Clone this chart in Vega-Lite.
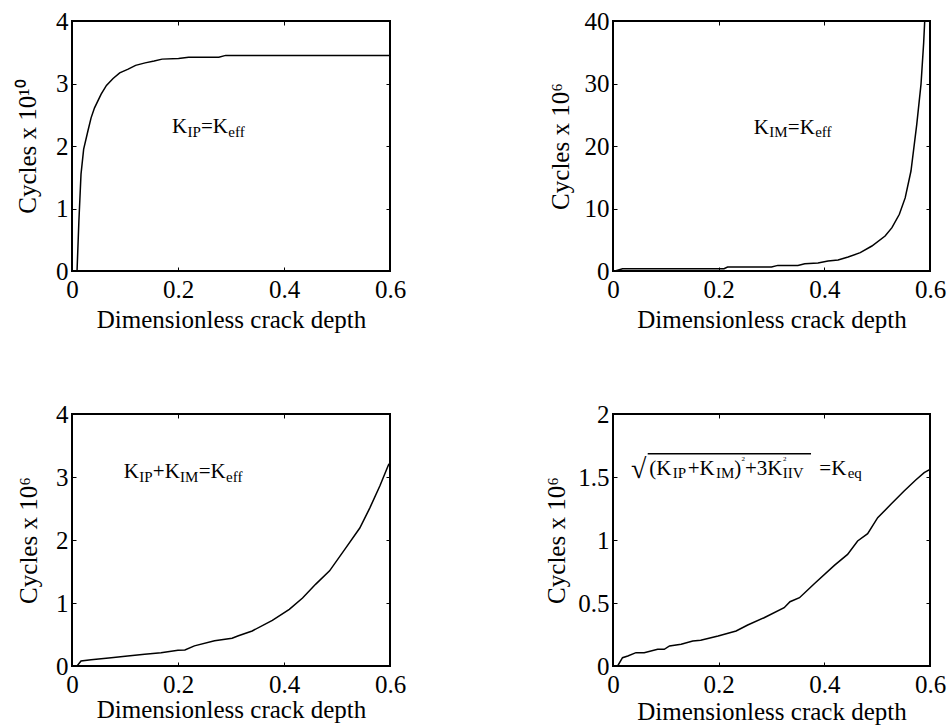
{
  "$schema": "https://vega.github.io/schema/vega-lite/v6.json",
  "padding": {"left": 14, "top": 8, "right": 5, "bottom": 5},
  "background": "white",
  "config": {
    "font": "Liberation Serif",
    "view": {"stroke": "black", "strokeWidth": 2},
    "axis": {"grid": false, "domain": false, "labelFont": "Liberation Serif", "titleFont": "Liberation Serif", "labelFontSize": 25, "titleFontSize": 25, "titleFontWeight": "normal", "labelColor": "black", "titleColor": "black", "tickColor": "black", "tickSize": -4, "tickWidth": 1, "labelFlush": false, "labelOverlap": false, "format": "~r"},
    "axisX": {"labelPadding": 10, "titlePadding": 5},
    "axisY": {"labelPadding": 8},
    "text": {"font": "Liberation Serif", "color": "black"}
  },
  "columns": 2,
  "spacing": {"row": 143, "column": 223},
  "bounds": "flush",
  "concat": [
    {
      "width": 318, "height": 250,
      "layer": [
        {
          "data": {"values": [{"x":0.0095,"y":0},{"x":0.013,"y":0.8},{"x":0.017,"y":1.55},{"x":0.022,"y":1.95},{"x":0.03,"y":2.24},{"x":0.036,"y":2.45},{"x":0.0425,"y":2.61},{"x":0.055,"y":2.83},{"x":0.065,"y":2.97},{"x":0.0775,"y":3.08},{"x":0.09,"y":3.17},{"x":0.106,"y":3.23},{"x":0.12,"y":3.29},{"x":0.138,"y":3.33},{"x":0.155,"y":3.36},{"x":0.17,"y":3.39},{"x":0.201,"y":3.4},{"x":0.22,"y":3.42},{"x":0.277,"y":3.42},{"x":0.29,"y":3.45},{"x":0.6,"y":3.45}]},
          "mark": {"type": "line", "color": "black", "strokeWidth": 1.5, "clip": true},
          "encoding": {
            "x": {"field": "x", "type": "quantitative", "scale": {"domain": [0, 0.6], "nice": false, "zero": false}, "axis": {"orient": "bottom", "values": [0, 0.2, 0.4, 0.6], "title": "Dimensionless crack depth"}},
            "y": {"field": "y", "type": "quantitative", "scale": {"domain": [0, 4], "nice": false}, "axis": {"orient": "left", "values": [0, 1, 2, 3, 4], "title": "Cycles x 10¹⁰", "titlePadding": 15}}
          }
        },
        {
          "data": {"values": [{"x":0.1887,"y":2.213,"t":"K"},{"x":0.2434,"y":2.213,"t":"=K"}]},
          "mark": {"type": "text", "align": "left", "baseline": "alphabetic", "fontSize": 21},
          "encoding": {
            "x": {"field": "x", "type": "quantitative", "scale": {"domain": [0, 0.6], "nice": false, "zero": false}, "axis": {"orient": "top", "labels": false, "title": null, "values": [0.2, 0.4]}},
            "y": {"field": "y", "type": "quantitative", "scale": {"domain": [0, 4], "nice": false}, "axis": {"orient": "right", "labels": false, "title": null, "values": [1, 2, 3]}},
            "text": {"field": "t"}
          }
        },
        {
          "data": {"values": [{"x":0.2179,"y":2.145,"t":"IP"},{"x":0.2949,"y":2.145,"t":"eff"}]},
          "mark": {"type": "text", "align": "left", "baseline": "alphabetic", "fontSize": 15},
          "encoding": {
            "x": {"field": "x", "type": "quantitative", "scale": {"domain": [0, 0.6], "nice": false, "zero": false}, "axis": null},
            "y": {"field": "y", "type": "quantitative", "scale": {"domain": [0, 4], "nice": false}, "axis": null},
            "text": {"field": "t"}
          }
        }
      ],
      "resolve": {"axis": {"x": "independent", "y": "independent"}}
    },
    {
      "width": 317, "height": 250,
      "layer": [
        {
          "data": {"values": [{"x":0.004,"y":0},{"x":0.018,"y":0.37},{"x":0.21,"y":0.37},{"x":0.217,"y":0.64},{"x":0.3,"y":0.64},{"x":0.312,"y":0.9},{"x":0.35,"y":0.9},{"x":0.363,"y":1.17},{"x":0.388,"y":1.28},{"x":0.407,"y":1.6},{"x":0.426,"y":1.76},{"x":0.445,"y":2.24},{"x":0.468,"y":2.93},{"x":0.49,"y":4.0},{"x":0.515,"y":5.6},{"x":0.528,"y":6.93},{"x":0.542,"y":9.07},{"x":0.553,"y":11.7},{"x":0.564,"y":16.0},{"x":0.575,"y":23.5},{"x":0.583,"y":29.9},{"x":0.588,"y":36.5},{"x":0.59,"y":40}]},
          "mark": {"type": "line", "color": "black", "strokeWidth": 1.5, "clip": true},
          "encoding": {
            "x": {"field": "x", "type": "quantitative", "scale": {"domain": [0, 0.6], "nice": false, "zero": false}, "axis": {"orient": "bottom", "values": [0, 0.2, 0.4, 0.6], "title": "Dimensionless crack depth"}},
            "y": {"field": "y", "type": "quantitative", "scale": {"domain": [0, 40], "nice": false}, "axis": {"orient": "left", "values": [0, 10, 20, 30, 40], "title": "Cycles x 10⁶", "titlePadding": 11}}
          }
        },
        {
          "data": {"values": [{"x":0.2663,"y":21.97,"t":"K"},{"x":0.3309,"y":21.97,"t":"=K"}]},
          "mark": {"type": "text", "align": "left", "baseline": "alphabetic", "fontSize": 21},
          "encoding": {
            "x": {"field": "x", "type": "quantitative", "scale": {"domain": [0, 0.6], "nice": false, "zero": false}, "axis": {"orient": "top", "labels": false, "title": null, "values": [0.2, 0.4]}},
            "y": {"field": "y", "type": "quantitative", "scale": {"domain": [0, 40], "nice": false}, "axis": {"orient": "right", "labels": false, "title": null, "values": [10, 20, 30]}},
            "text": {"field": "t"}
          }
        },
        {
          "data": {"values": [{"x":0.2957,"y":21.44,"t":"IM"},{"x":0.3826,"y":21.44,"t":"eff"}]},
          "mark": {"type": "text", "align": "left", "baseline": "alphabetic", "fontSize": 15},
          "encoding": {
            "x": {"field": "x", "type": "quantitative", "scale": {"domain": [0, 0.6], "nice": false, "zero": false}, "axis": null},
            "y": {"field": "y", "type": "quantitative", "scale": {"domain": [0, 40], "nice": false}, "axis": null},
            "text": {"field": "t"}
          }
        }
      ],
      "resolve": {"axis": {"x": "independent", "y": "independent"}}
    },
    {
      "width": 318, "height": 252,
      "layer": [
        {
          "data": {"values": [{"x":0.0095,"y":0},{"x":0.017,"y":0.08},{"x":0.036,"y":0.1},{"x":0.074,"y":0.13},{"x":0.105,"y":0.16},{"x":0.137,"y":0.185},{"x":0.168,"y":0.21},{"x":0.2,"y":0.25},{"x":0.213,"y":0.254},{"x":0.231,"y":0.32},{"x":0.269,"y":0.4},{"x":0.302,"y":0.44},{"x":0.314,"y":0.48},{"x":0.34,"y":0.556},{"x":0.378,"y":0.725},{"x":0.41,"y":0.9},{"x":0.435,"y":1.08},{"x":0.46,"y":1.3},{"x":0.486,"y":1.51},{"x":0.517,"y":1.88},{"x":0.543,"y":2.19},{"x":0.562,"y":2.51},{"x":0.581,"y":2.86},{"x":0.598,"y":3.21}]},
          "mark": {"type": "line", "color": "black", "strokeWidth": 1.5, "clip": true},
          "encoding": {
            "x": {"field": "x", "type": "quantitative", "scale": {"domain": [0, 0.6], "nice": false, "zero": false}, "axis": {"orient": "bottom", "values": [0, 0.2, 0.4, 0.6], "title": "Dimensionless crack depth", "titlePadding": 0}},
            "y": {"field": "y", "type": "quantitative", "scale": {"domain": [0, 4], "nice": false}, "axis": {"orient": "left", "values": [0, 1, 2, 3, 4], "title": "Cycles x 10⁶", "titlePadding": 14}}
          }
        },
        {
          "data": {"values": [{"x":0.0975,"y":2.989,"t":"K"},{"x":0.1525,"y":2.989,"t":"+K"},{"x":0.2391,"y":2.989,"t":"=K"}]},
          "mark": {"type": "text", "align": "left", "baseline": "alphabetic", "fontSize": 21},
          "encoding": {
            "x": {"field": "x", "type": "quantitative", "scale": {"domain": [0, 0.6], "nice": false, "zero": false}, "axis": {"orient": "top", "labels": false, "title": null, "values": [0.2, 0.4]}},
            "y": {"field": "y", "type": "quantitative", "scale": {"domain": [0, 4], "nice": false}, "axis": {"orient": "right", "labels": false, "title": null, "values": [1, 2, 3]}},
            "text": {"field": "t"}
          }
        },
        {
          "data": {"values": [{"x":0.1268,"y":2.925,"t":"IP"},{"x":0.204,"y":2.925,"t":"IM"},{"x":0.2906,"y":2.925,"t":"eff"}]},
          "mark": {"type": "text", "align": "left", "baseline": "alphabetic", "fontSize": 15},
          "encoding": {
            "x": {"field": "x", "type": "quantitative", "scale": {"domain": [0, 0.6], "nice": false, "zero": false}, "axis": null},
            "y": {"field": "y", "type": "quantitative", "scale": {"domain": [0, 4], "nice": false}, "axis": null},
            "text": {"field": "t"}
          }
        }
      ],
      "resolve": {"axis": {"x": "independent", "y": "independent"}}
    },
    {
      "width": 317, "height": 252,
      "layer": [
        {
          "data": {"values": [{"x":0.0088,"y":0},{"x":0.018,"y":0.066},{"x":0.028,"y":0.079},{"x":0.0435,"y":0.106},{"x":0.059,"y":0.106},{"x":0.0845,"y":0.132},{"x":0.097,"y":0.132},{"x":0.107,"y":0.159},{"x":0.129,"y":0.172},{"x":0.151,"y":0.198},{"x":0.166,"y":0.204},{"x":0.199,"y":0.238},{"x":0.233,"y":0.278},{"x":0.255,"y":0.325},{"x":0.286,"y":0.383},{"x":0.324,"y":0.463},{"x":0.335,"y":0.51},{"x":0.353,"y":0.542},{"x":0.381,"y":0.653},{"x":0.419,"y":0.799},{"x":0.444,"y":0.886},{"x":0.463,"y":0.992},{"x":0.482,"y":1.05},{"x":0.501,"y":1.177},{"x":0.526,"y":1.283},{"x":0.551,"y":1.389},{"x":0.573,"y":1.476},{"x":0.589,"y":1.534},{"x":0.6,"y":1.56}]},
          "mark": {"type": "line", "color": "black", "strokeWidth": 1.5, "clip": true},
          "encoding": {
            "x": {"field": "x", "type": "quantitative", "scale": {"domain": [0, 0.6], "nice": false, "zero": false}, "axis": {"orient": "bottom", "values": [0, 0.2, 0.4, 0.6], "title": "Dimensionless crack depth", "titlePadding": 2}},
            "y": {"field": "y", "type": "quantitative", "scale": {"domain": [0, 2], "nice": false}, "axis": {"orient": "left", "values": [0, 0.5, 1, 1.5, 2], "title": "Cycles x 10⁶", "titlePadding": 8}}
          }
        },
        {
          "data": {"values": [{"x":0.0687,"y":1.516,"t":"(K"},{"x":0.1414,"y":1.516,"t":"+K"},{"x":0.2296,"y":1.516,"t":")"},{"x":0.2499,"y":1.516,"t":"+3K"},{"x":0.3905,"y":1.516,"t":"=K"}]},
          "mark": {"type": "text", "align": "left", "baseline": "alphabetic", "fontSize": 21},
          "encoding": {
            "x": {"field": "x", "type": "quantitative", "scale": {"domain": [0, 0.6], "nice": false, "zero": false}, "axis": {"orient": "top", "labels": false, "title": null, "values": [0.2, 0.4]}},
            "y": {"field": "y", "type": "quantitative", "scale": {"domain": [0, 2], "nice": false}, "axis": {"orient": "right", "labels": false, "title": null, "values": [0.5, 1, 1.5]}},
            "text": {"field": "t"}
          }
        },
        {
          "data": {"values": [{"x":0.113,"y":1.492,"t":"IP"},{"x":0.195,"y":1.492,"t":"IM"},{"x":0.3212,"y":1.492,"t":"IIV"},{"x":0.4442,"y":1.492,"t":"eq"}]},
          "mark": {"type": "text", "align": "left", "baseline": "alphabetic", "fontSize": 15},
          "encoding": {
            "x": {"field": "x", "type": "quantitative", "scale": {"domain": [0, 0.6], "nice": false, "zero": false}, "axis": null},
            "y": {"field": "y", "type": "quantitative", "scale": {"domain": [0, 2], "nice": false}, "axis": null},
            "text": {"field": "t"}
          }
        },
        {
          "data": {"values": [{"x":0.2433,"y":1.63,"t":"2"},{"x":0.3218,"y":1.63,"t":"2"}]},
          "mark": {"type": "text", "align": "left", "baseline": "alphabetic", "fontSize": 7},
          "encoding": {
            "x": {"field": "x", "type": "quantitative", "scale": {"domain": [0, 0.6], "nice": false, "zero": false}, "axis": null},
            "y": {"field": "y", "type": "quantitative", "scale": {"domain": [0, 2], "nice": false}, "axis": null},
            "text": {"field": "t"}
          }
        },
        {
          "data": {"values": [{"x":0.0341,"y":1.49,"t":"√"}]},
          "mark": {"type": "text", "align": "left", "baseline": "alphabetic", "fontSize": 28},
          "encoding": {
            "x": {"field": "x", "type": "quantitative", "scale": {"domain": [0, 0.6], "nice": false, "zero": false}, "axis": null},
            "y": {"field": "y", "type": "quantitative", "scale": {"domain": [0, 2], "nice": false}, "axis": null},
            "text": {"field": "t"}
          }
        },
        {
          "data": {"values": [{"x":0.0657,"x2":0.3748,"y":1.685}]},
          "mark": {"type": "rule", "color": "black", "strokeWidth": 1.5},
          "encoding": {
            "x": {"field": "x", "type": "quantitative", "scale": {"domain": [0, 0.6], "nice": false, "zero": false}, "axis": null},
            "x2": {"field": "x2"},
            "y": {"field": "y", "type": "quantitative", "scale": {"domain": [0, 2], "nice": false}, "axis": null}
          }
        }
      ],
      "resolve": {"axis": {"x": "independent", "y": "independent"}}
    }
  ]
}
